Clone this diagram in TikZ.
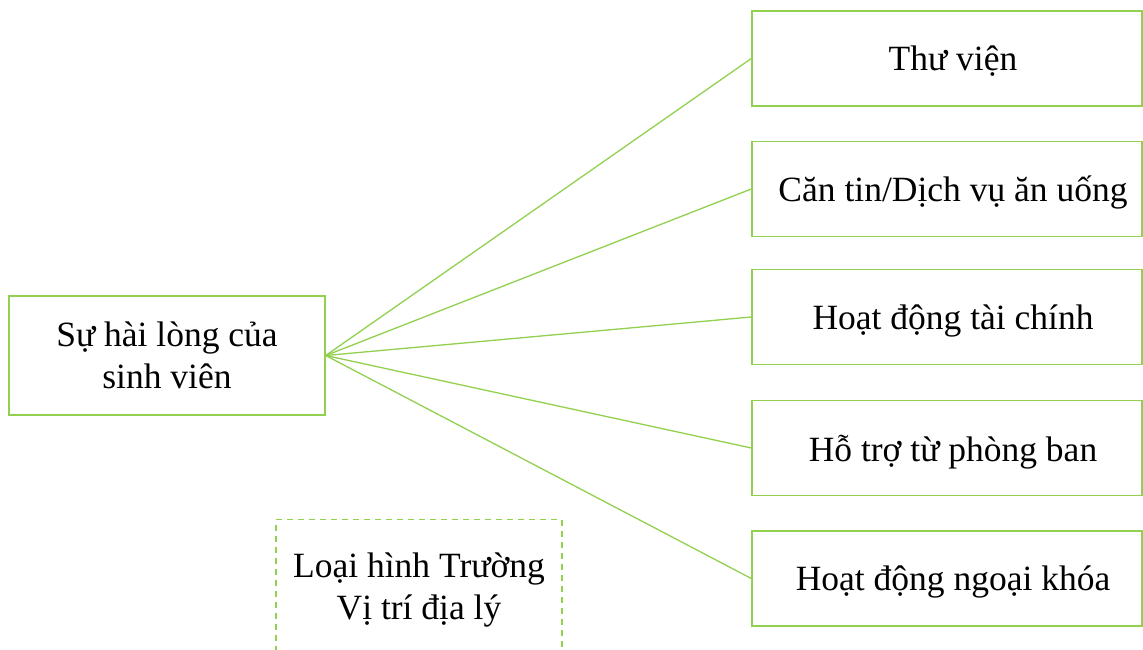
\documentclass[tikz,border=0pt]{standalone}
\usepackage{fontspec}
\setmainfont{Liberation Serif}
\definecolor{leafgreen}{RGB}{146,208,80}
\tikzset{
  box/.style={draw=leafgreen, line width=1.4pt, rectangle, inner sep=0pt,
    align=center, text depth=-6pt, font=\fontsize{35.5}{42}\selectfont},
  factor/.style={box, minimum width=390pt, minimum height=95pt,
    execute at begin node=\hspace*{12pt}},
  ctxbox/.style={draw=leafgreen, line width=1.3pt, dash pattern=on 6pt off 5pt,
    rectangle, inner sep=0pt, minimum width=286pt, minimum height=160pt},
  label/.style={align=center, inner sep=0pt, font=\fontsize{35.5}{42}\selectfont},
  link/.style={draw=leafgreen, line width=1.3pt}
}
\begin{document}
\begin{tikzpicture}[x=1pt, y=-1pt]
  \clip (0,0) rectangle (1143,650);
  \fill[white] (0,0) rectangle (1143,650);

  % central concept
  \node[box, minimum width=316pt, minimum height=119pt] (sat) at (167,355.5)
    {Sự hài lòng của\\sinh viên};

  % service factors
  \node[factor] (lib)  at (947,58.5)  {Thư viện};
  \node[factor] (food) at (947,189)   {Căn tin/Dịch vụ ăn uống};
  \node[factor] (fin)  at (947,317)   {Hoạt động tài chính};
  \node[factor] (dept) at (947,448)   {Hỗ trợ từ phòng ban};
  \node[factor] (ext)  at (947,578.5) {Hoạt động ngoại khóa};

  % control variables
  \node[ctxbox, anchor=north] (ctx) at (419,519) {};
  \node[label] (ctxtext) at (419,590) {Loại hình Trường\\Vị trí địa lý};

  % links
  \foreach \f in {lib,food,fin,dept,ext}
    \draw[link] (sat.east) -- (\f.west);
\end{tikzpicture}
\end{document}
